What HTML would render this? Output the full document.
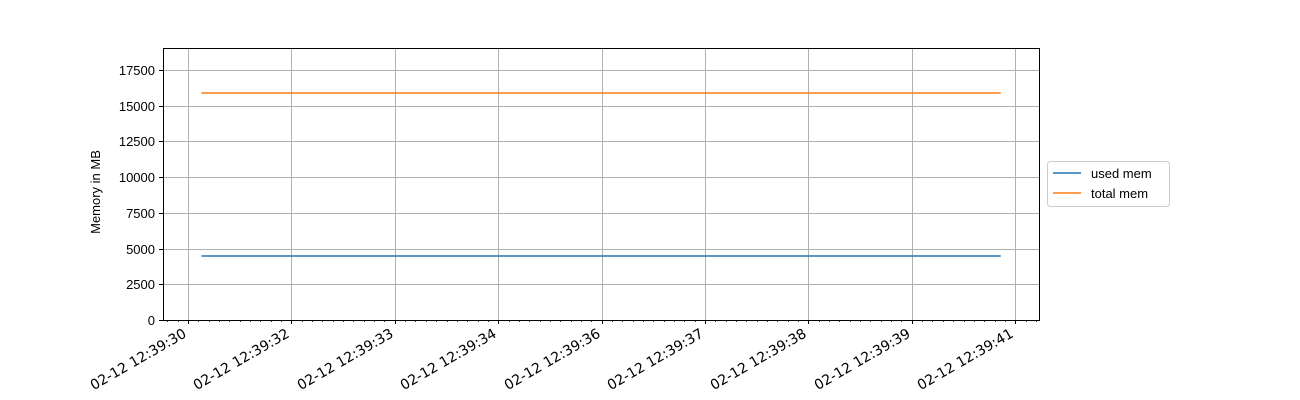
<!DOCTYPE html>
<html><head><meta charset="utf-8"><style>
body{margin:0;background:#fff;}
svg{display:block;font-family:"Liberation Sans","DejaVu Sans",sans-serif;}
</style></head><body>
<svg id="chart" width="1300" height="400" xmlns="http://www.w3.org/2000/svg">
<g id="grid"></g>
<g id="series"></g>
<rect x="163.5" y="48.5" width="876" height="272" fill="none" stroke="#000" stroke-width="1"/>
<g id="axes"></g>
<text transform="translate(100,192) rotate(-90)" text-anchor="middle" font-size="13">Memory in MB</text>
<g>
<rect x="1047.5" y="161.5" width="122" height="45" rx="3" fill="#fff" stroke="#ccc"/>
<g><line x1="1053" y1="173" x2="1081" y2="173" stroke="#1f77b4" stroke-width="1.5"/><text x="1091" y="178" font-size="13">used mem</text></g>
<g><line x1="1053" y1="193" x2="1081" y2="193" stroke="#ff7f0e" stroke-width="1.5"/><text x="1091" y="198" font-size="13">total mem</text></g>
</g>
</svg>
<script>
const tickLabels=["02-12 12:39:30","02-12 12:39:32","02-12 12:39:33","02-12 12:39:34","02-12 12:39:36","02-12 12:39:37","02-12 12:39:38","02-12 12:39:39","02-12 12:39:41"];
const yTicks=[0,2500,5000,7500,10000,12500,15000,17500];
const times=[0.13,7.86]; // in tick units from first major tick
const usedMem=[4480,4480];
const totalMem=[15890,15890];
const NS="http://www.w3.org/2000/svg";
const X0=188,XS=103.4,Y0=320,YS=250/17500;
const xs=t=>X0+t*XS, ys=v=>Y0-v*YS;
function mk(tag,at,parent){const e=document.createElementNS(NS,tag);for(const k in at)e.setAttribute(k,at[k]);parent.appendChild(e);return e;}
const grid=document.getElementById('grid'),axes=document.getElementById('axes'),ser=document.getElementById('series');
tickLabels.forEach((lab,i)=>{
 const x=Math.round(xs(i))+0.5;
 const g=mk('line',{x1:x,x2:x,y1:48,y2:320,stroke:'#b0b0b0','stroke-width':1},grid);
 
 
 const t=mk('line',{x1:x,x2:x,y1:320,y2:324,stroke:'#000'},axes);
 
 
 const tx=mk('text',{transform:`translate(${x-6},328) rotate(-30)`,'text-anchor':'end','font-size':14,'font-family':'"DejaVu Sans",sans-serif','dominant-baseline':'hanging'},axes);
 tx.textContent=lab;
 
 
});
for(let m=-2;m<=84;m++){ if(m%10===0)continue; const x=Math.round(xs(m/10))+0.5; if(x<164||x>1039)continue;
 const t=mk('line',{x1:x,x2:x,y1:320,y2:322,stroke:'#000','stroke-width':0.8},axes);
 
 }
yTicks.forEach(v=>{
 const y=Math.round(ys(v))+0.5;
 const g=mk('line',{x1:163,x2:1040,y1:y,y2:y,stroke:'#b0b0b0'},grid);
 
 
 const t=mk('line',{x1:159,x2:163,y1:y,y2:y,stroke:'#000'},axes);
 
 
 const tx=mk('text',{x:155,y:y+4.5,'text-anchor':'end','font-size':13},axes);
 tx.textContent=v;
 
 
});
function line(vals,color,name){
 const p=mk('polyline',{points:times.map((t,i)=>xs(t)+','+ys(vals[i])).join(' '),fill:'none',stroke:color,'stroke-width':1.5},ser);
 
 
}
line(usedMem,'#1f77b4','used-mem-line');
line(totalMem,'#ff7f0e','total-mem-line');
</script>
</body></html>
